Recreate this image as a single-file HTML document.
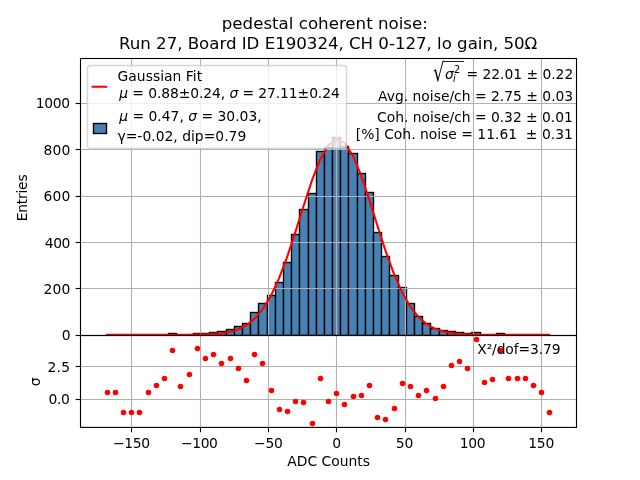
<!DOCTYPE html>
<html lang="en"><head><meta charset="utf-8"><title>pedestal coherent noise</title>
<style>html,body{margin:0;padding:0;background:#fff}body{width:640px;height:480px;overflow:hidden}svg text{white-space:pre}</style>
</head><body>
<svg width="640" height="480" viewBox="0 0 640 480" style="display:block;font-family:'DejaVu Sans','Liberation Sans',sans-serif">
<defs><clipPath id="c1"><rect x="80.5" y="58.5" width="496.0" height="277.0"/></clipPath><clipPath id="c2"><rect x="80.5" y="335.5" width="496.0" height="91.89999999999998"/></clipPath></defs>
<rect width="640" height="480" fill="#fff"/>
<g clip-path="url(#c1)">
<g fill="#4682b4" stroke="#000" stroke-width="1.389" stroke-linejoin="miter">
<rect x="103.5" y="335.5" width="8.0" height="0.0"/>
<rect x="111.5" y="334.9" width="8.0" height="0.6000000000000227"/>
<rect x="119.5" y="335.5" width="8.0" height="0.0"/>
<rect x="127.5" y="335.5" width="8.0" height="0.0"/>
<rect x="135.5" y="335.5" width="9.0" height="0.0"/>
<rect x="144.5" y="334.9" width="8.0" height="0.6000000000000227"/>
<rect x="152.5" y="334.9" width="8.0" height="0.6000000000000227"/>
<rect x="160.5" y="334.9" width="8.0" height="0.6000000000000227"/>
<rect x="168.5" y="333.5" width="8.0" height="2.0"/>
<rect x="176.5" y="334.9" width="9.0" height="0.6000000000000227"/>
<rect x="185.5" y="334.9" width="8.0" height="0.6000000000000227"/>
<rect x="193.5" y="333.5" width="8.0" height="2.0"/>
<rect x="201.5" y="333.5" width="8.0" height="2.0"/>
<rect x="209.5" y="332.5" width="8.0" height="3.0"/>
<rect x="217.5" y="331.5" width="9.0" height="4.0"/>
<rect x="226.5" y="329.5" width="8.0" height="6.0"/>
<rect x="234.5" y="326.5" width="8.0" height="9.0"/>
<rect x="242.5" y="323.5" width="8.0" height="12.0"/>
<rect x="250.5" y="312.5" width="8.0" height="23.0"/>
<rect x="258.5" y="303.5" width="9.0" height="32.0"/>
<rect x="267.5" y="295.5" width="8.0" height="40.0"/>
<rect x="275.5" y="282.5" width="8.0" height="53.0"/>
<rect x="283.5" y="262.5" width="8.0" height="73.0"/>
<rect x="291.5" y="234.5" width="8.0" height="101.0"/>
<rect x="299.5" y="209.5" width="9.0" height="126.0"/>
<rect x="308.5" y="193.5" width="8.0" height="142.0"/>
<rect x="316.5" y="151.5" width="8.0" height="184.0"/>
<rect x="324.5" y="147.5" width="8.0" height="188.0"/>
<rect x="332.5" y="137.5" width="8.0" height="198.0"/>
<rect x="340.5" y="146.5" width="8.0" height="189.0"/>
<rect x="348.5" y="153.5" width="9.0" height="182.0"/>
<rect x="357.5" y="173.5" width="8.0" height="162.0"/>
<rect x="365.5" y="192.5" width="8.0" height="143.0"/>
<rect x="373.5" y="232.5" width="8.0" height="103.0"/>
<rect x="381.5" y="256.5" width="8.0" height="79.0"/>
<rect x="389.5" y="275.5" width="9.0" height="60.0"/>
<rect x="398.5" y="287.5" width="8.0" height="48.0"/>
<rect x="406.5" y="303.5" width="8.0" height="32.0"/>
<rect x="414.5" y="316.5" width="8.0" height="19.0"/>
<rect x="422.5" y="323.5" width="8.0" height="12.0"/>
<rect x="430.5" y="328.5" width="9.0" height="7.0"/>
<rect x="439.5" y="330.5" width="8.0" height="5.0"/>
<rect x="447.5" y="331.5" width="8.0" height="4.0"/>
<rect x="455.5" y="332.5" width="8.0" height="3.0"/>
<rect x="463.5" y="333.5" width="8.0" height="2.0"/>
<rect x="471.5" y="332.5" width="9.0" height="3.0"/>
<rect x="480.5" y="334.9" width="8.0" height="0.6000000000000227"/>
<rect x="488.5" y="334.9" width="8.0" height="0.6000000000000227"/>
<rect x="496.5" y="333.5" width="8.0" height="2.0"/>
<rect x="504.5" y="334.9" width="8.0" height="0.6000000000000227"/>
<rect x="512.5" y="334.9" width="9.0" height="0.6000000000000227"/>
<rect x="521.5" y="334.9" width="8.0" height="0.6000000000000227"/>
<rect x="529.5" y="334.9" width="8.0" height="0.6000000000000227"/>
<rect x="537.5" y="334.9" width="8.0" height="0.6000000000000227"/>
<rect x="545.5" y="335.5" width="8.0" height="0.0"/>
</g>
<g stroke="#b0b0b0" stroke-width="1.111" fill="none">
<line x1="131.5" y1="58.5" x2="131.5" y2="335.5"/>
<line x1="200.5" y1="58.5" x2="200.5" y2="335.5"/>
<line x1="268.5" y1="58.5" x2="268.5" y2="335.5"/>
<line x1="336.5" y1="58.5" x2="336.5" y2="335.5"/>
<line x1="405.5" y1="58.5" x2="405.5" y2="335.5"/>
<line x1="473.5" y1="58.5" x2="473.5" y2="335.5"/>
<line x1="541.5" y1="58.5" x2="541.5" y2="335.5"/>
<line x1="80.5" y1="288.5" x2="576.5" y2="288.5"/>
<line x1="80.5" y1="242.5" x2="576.5" y2="242.5"/>
<line x1="80.5" y1="196.5" x2="576.5" y2="196.5"/>
<line x1="80.5" y1="149.5" x2="576.5" y2="149.5"/>
<line x1="80.5" y1="103.5" x2="576.5" y2="103.5"/>
</g>
<polyline points="106.64,334.80 114.84,334.80 123.04,334.80 131.24,334.80 139.44,334.80 147.64,334.80 155.84,334.80 164.03,334.80 172.23,334.79 180.43,334.78 188.63,334.74 196.83,334.65 205.03,334.47 213.22,334.09 221.42,333.35 229.62,331.96 237.82,329.53 246.02,325.48 254.22,319.10 262.41,309.61 270.61,296.33 278.81,278.85 287.01,257.32 295.21,232.64 303.41,206.52 311.60,181.44 319.80,160.21 328.00,145.54 336.20,139.45 344.40,142.81 352.60,155.12 360.80,174.68 368.99,198.94 377.19,225.03 385.39,250.35 393.59,272.93 401.79,291.64 409.99,306.14 418.18,316.67 426.38,323.88 434.58,328.54 442.78,331.38 450.98,333.02 459.18,333.92 467.37,334.39 475.57,334.61 483.77,334.72 491.97,334.77 500.17,334.79 508.37,334.80 516.56,334.80 524.76,334.80 532.96,334.80 541.16,334.80 549.36,334.80" fill="none" stroke="#f00" stroke-width="2.083" stroke-linecap="square" stroke-linejoin="round"/>
</g>
<g clip-path="url(#c2)">
<g stroke="#b0b0b0" stroke-width="1.111" fill="none">
<line x1="131.5" y1="335.5" x2="131.5" y2="427.4"/>
<line x1="200.5" y1="335.5" x2="200.5" y2="427.4"/>
<line x1="268.5" y1="335.5" x2="268.5" y2="427.4"/>
<line x1="336.5" y1="335.5" x2="336.5" y2="427.4"/>
<line x1="405.5" y1="335.5" x2="405.5" y2="427.4"/>
<line x1="473.5" y1="335.5" x2="473.5" y2="427.4"/>
<line x1="541.5" y1="335.5" x2="541.5" y2="427.4"/>
<line x1="80.5" y1="399.5" x2="576.5" y2="399.5"/>
<line x1="80.5" y1="366.5" x2="576.5" y2="366.5"/>
</g>
<g fill="#f00">
<circle cx="107.5" cy="392.5" r="2.778"/>
<circle cx="115.5" cy="392.5" r="2.778"/>
<circle cx="123.5" cy="412.5" r="2.778"/>
<circle cx="131.5" cy="412.5" r="2.778"/>
<circle cx="139.5" cy="412.5" r="2.778"/>
<circle cx="148.5" cy="392.5" r="2.778"/>
<circle cx="156.5" cy="385.5" r="2.778"/>
<circle cx="164.5" cy="378.5" r="2.778"/>
<circle cx="172.5" cy="350.5" r="2.778"/>
<circle cx="180.5" cy="386.5" r="2.778"/>
<circle cx="189.5" cy="374.5" r="2.778"/>
<circle cx="197.5" cy="348.5" r="2.778"/>
<circle cx="205.5" cy="358.5" r="2.778"/>
<circle cx="213.5" cy="354.5" r="2.778"/>
<circle cx="221.5" cy="363.5" r="2.778"/>
<circle cx="230.5" cy="358.5" r="2.778"/>
<circle cx="238.5" cy="368.5" r="2.778"/>
<circle cx="246.5" cy="380.5" r="2.778"/>
<circle cx="254.5" cy="354.5" r="2.778"/>
<circle cx="262.5" cy="363.5" r="2.778"/>
<circle cx="271.5" cy="390.5" r="2.778"/>
<circle cx="279.5" cy="409.5" r="2.778"/>
<circle cx="287.5" cy="411.5" r="2.778"/>
<circle cx="295.5" cy="401.5" r="2.778"/>
<circle cx="303.5" cy="402.5" r="2.778"/>
<circle cx="312.5" cy="423.5" r="2.778"/>
<circle cx="320.5" cy="378.5" r="2.778"/>
<circle cx="328.5" cy="401.5" r="2.778"/>
<circle cx="336.5" cy="393.5" r="2.778"/>
<circle cx="344.5" cy="404.5" r="2.778"/>
<circle cx="353.5" cy="396.5" r="2.778"/>
<circle cx="361.5" cy="395.5" r="2.778"/>
<circle cx="369.5" cy="385.5" r="2.778"/>
<circle cx="377.5" cy="417.5" r="2.778"/>
<circle cx="385.5" cy="419.5" r="2.778"/>
<circle cx="394.5" cy="408.5" r="2.778"/>
<circle cx="402.5" cy="383.5" r="2.778"/>
<circle cx="410.5" cy="386.5" r="2.778"/>
<circle cx="418.5" cy="395.5" r="2.778"/>
<circle cx="426.5" cy="390.5" r="2.778"/>
<circle cx="435.5" cy="398.5" r="2.778"/>
<circle cx="443.5" cy="386.5" r="2.778"/>
<circle cx="451.5" cy="365.5" r="2.778"/>
<circle cx="459.5" cy="361.5" r="2.778"/>
<circle cx="467.5" cy="368.5" r="2.778"/>
<circle cx="476.5" cy="339.5" r="2.778"/>
<circle cx="484.5" cy="382.5" r="2.778"/>
<circle cx="492.5" cy="379.5" r="2.778"/>
<circle cx="500.5" cy="350.5" r="2.778"/>
<circle cx="508.5" cy="378.5" r="2.778"/>
<circle cx="517.5" cy="378.5" r="2.778"/>
<circle cx="525.5" cy="378.5" r="2.778"/>
<circle cx="533.5" cy="385.5" r="2.778"/>
<circle cx="541.5" cy="392.5" r="2.778"/>
<circle cx="549.5" cy="412.5" r="2.778"/>
</g>
</g>
<g stroke="#000" stroke-width="1.111" fill="none" stroke-linecap="square">
<rect x="80.5" y="58.5" width="496.0" height="277.0"/>
<rect x="80.5" y="335.5" width="496.0" height="91.89999999999998"/>
</g>
<g stroke="#000" stroke-width="1.111" fill="none">
<line x1="80.5" y1="335.5" x2="75.64" y2="335.5"/>
<line x1="80.5" y1="288.5" x2="75.64" y2="288.5"/>
<line x1="80.5" y1="242.5" x2="75.64" y2="242.5"/>
<line x1="80.5" y1="196.5" x2="75.64" y2="196.5"/>
<line x1="80.5" y1="149.5" x2="75.64" y2="149.5"/>
<line x1="80.5" y1="103.5" x2="75.64" y2="103.5"/>
<line x1="80.5" y1="399.5" x2="75.64" y2="399.5"/>
<line x1="80.5" y1="366.5" x2="75.64" y2="366.5"/>
<line x1="131.5" y1="427.4" x2="131.5" y2="432.26"/>
<line x1="200.5" y1="427.4" x2="200.5" y2="432.26"/>
<line x1="268.5" y1="427.4" x2="268.5" y2="432.26"/>
<line x1="336.5" y1="427.4" x2="336.5" y2="432.26"/>
<line x1="405.5" y1="427.4" x2="405.5" y2="432.26"/>
<line x1="473.5" y1="427.4" x2="473.5" y2="432.26"/>
<line x1="541.5" y1="427.4" x2="541.5" y2="432.26"/>
</g>
<g fill="#000">
<text x="35.75" y="108.00" font-size="13.889" textLength="34.41" lengthAdjust="spacing">1000</text>
<text x="43.50" y="154.90" font-size="13.889" textLength="26.83" lengthAdjust="spacing">800</text>
<text x="43.50" y="200.80" font-size="13.889" textLength="26.83" lengthAdjust="spacing">600</text>
<text x="44.75" y="247.70" font-size="13.889" textLength="25.63" lengthAdjust="spacing">400</text>
<text x="43.50" y="293.80" font-size="13.889" textLength="26.93" lengthAdjust="spacing">200</text>
<text x="61.75" y="339.90" font-size="13.889">0</text>
<text x="47.50" y="371.80" font-size="13.889" textLength="22.53" lengthAdjust="spacing">2.5</text>
<text x="48.50" y="403.90" font-size="13.889" textLength="21.43" lengthAdjust="spacing">0.0</text>
<text x="113.00" y="448.00" font-size="13.889" textLength="37.11" lengthAdjust="spacing">−150</text>
<text x="181.00" y="448.00" font-size="13.889" textLength="36.86" lengthAdjust="spacing">−100</text>
<text x="254.00" y="448.00" font-size="13.889" textLength="28.78" lengthAdjust="spacing">−50</text>
<text x="332.25" y="448.00" font-size="13.889">0</text>
<text x="395.75" y="448.00" font-size="13.889" textLength="17.56" lengthAdjust="spacing">50</text>
<text x="459.75" y="448.00" font-size="13.889" textLength="25.78" lengthAdjust="spacing">100</text>
<text x="528.25" y="448.00" font-size="13.889" textLength="26.03" lengthAdjust="spacing">150</text>
<text x="287.25" y="466.10" font-size="13.889">ADC Counts</text>
<text transform="translate(26.5 221.35) rotate(-90)" font-size="13.889" textLength="46.98" lengthAdjust="spacing">Entries</text>
<text transform="translate(39.75 386.2) rotate(-90)" font-size="13.889">σ</text>
<text transform="translate(433.1 81.4) scale(1.2672 1.8108)" font-size="13.889">√</text>
<rect x="443.4" y="61.0" width="20.5" height="0.87"/>
<text font-size="13.889"><tspan x="445.0" y="78.6" font-style="oblique">σ</tspan><tspan x="454.0" y="72.9" font-size="9.722">2</tspan><tspan x="453.1" y="82.2" font-size="9.722" font-style="oblique">i</tspan><tspan x="462.08" y="79.0"> </tspan><tspan x="466.50" y="79.0" textLength="106.71" lengthAdjust="spacing">= 22.01 ± 0.22</tspan></text>
<text x="378.00" y="101.40" font-size="13.889">Avg. noise/ch = 2.75 ± 0.03</text>
<text x="377.00" y="121.50" font-size="13.889" textLength="195.88" lengthAdjust="spacing">Coh. noise/ch = 0.32 ± 0.01</text>
<text x="355.75" y="139.40" font-size="13.889">[%] Coh. noise = 11.61  ± 0.31</text>
<text x="477.25" y="353.70" font-size="13.889" textLength="83.25" lengthAdjust="spacing">X²/dof=3.79</text>
<text x="221.75" y="28.60" font-size="16.667">pedestal coherent noise:</text>
<text x="119.00" y="49.10" font-size="16.667" textLength="418.28" lengthAdjust="spacing">Run 27, Board ID E190324, CH 0-127, lo gain, 50Ω</text>
</g>
<rect x="87.5" y="65.5" width="259.0" height="83.0" rx="2.78" ry="2.78" fill="#fff" stroke="#ccc" stroke-width="1.389" opacity="0.8"/>
<line x1="92.7" y1="86.75" x2="106.1" y2="86.75" stroke="#f00" stroke-width="2.083" stroke-linecap="square"/>
<rect x="93.5" y="123.5" width="13" height="10" fill="#4682b4" stroke="#000" stroke-width="1.389"/>
<g fill="#000">
<text x="117.50" y="80.60" font-size="13.889" textLength="84.69" lengthAdjust="spacing">Gaussian Fit</text>
<text x="119.25" y="98.30" font-size="13.889" textLength="220.50" lengthAdjust="spacing"><tspan font-style="oblique">μ</tspan> = 0.88±0.24, <tspan font-style="oblique">σ</tspan> = 27.11±0.24</text>
<text x="119.25" y="120.90" font-size="13.889"><tspan font-style="oblique">μ</tspan> = 0.47, <tspan font-style="oblique">σ</tspan> = 30.03,</text>
<text x="117.50" y="140.55" font-size="13.889" textLength="128.76" lengthAdjust="spacing">γ=-0.02, dip=0.79</text>
</g>
</svg>
</body></html>
